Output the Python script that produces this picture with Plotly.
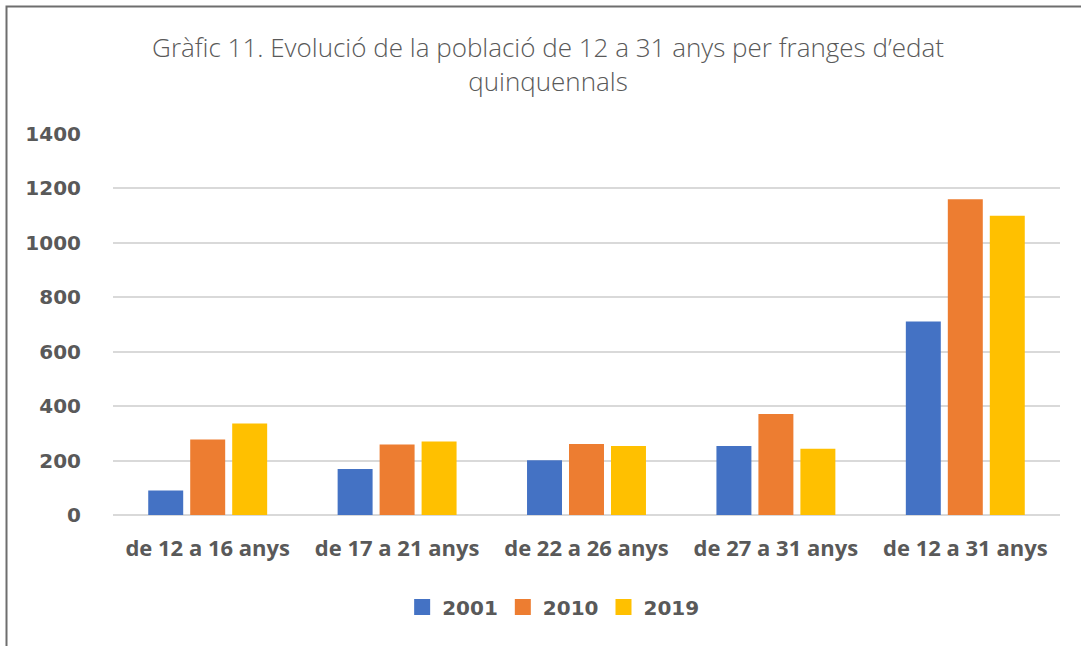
import plotly.graph_objects as go

categories = ["de 12 a 16 anys", "de 17 a 21 anys", "de 22 a 26 anys", "de 27 a 31 anys", "de 12 a 31 anys"]
series_names = ["2001", "2010", "2019"]
values_2001 = [90, 169, 201, 254, 711]
values_2010 = [277, 259, 261, 371, 1160]
values_2019 = [336, 270, 254, 243, 1100]
y_ticks = [0, 200, 400, 600, 800, 1000, 1200, 1400]
colors = ["#4472C4", "#ED7D31", "#FFC000"]

W, H = 1081, 646
ML, MR, MT, MB = 113, 21, 134, 131
TXT = "#595959"
BOLD_FONT = "DejaVu Sans, sans-serif"

fig = go.Figure()
for name, vals, col in zip(series_names, [values_2001, values_2010, values_2019], colors):
    fig.add_trace(go.Bar(x=categories, y=vals, name=name, showlegend=False,
                         marker=dict(color=col, line=dict(width=0))))
# legend entries with larger square swatches
for name, col in zip(series_names, colors):
    fig.add_trace(go.Scatter(x=[None], y=[None], name=name, mode="markers",
                             marker=dict(symbol="square", size=17, color=col)))

pw = W - ML - MR
ph = H - MT - MB
def px_x(x):
    return (x - ML) / pw
def px_y(y):
    return (H - MB - y) / ph

fig.update_layout(
    width=W, height=H,
    margin=dict(l=ML, r=MR, t=MT, b=MB, autoexpand=False),
    paper_bgcolor="white", plot_bgcolor="white",
    barmode="group", bargap=0.335, bargroupgap=0.167,
    font=dict(family="Open Sans, sans-serif", color=TXT),
    title=dict(
        text="Gràfic 11. Evolució de la població de 12 a 31 anys per franges d’edat<br>quinquennals",
        x=548 / W, xanchor="center", y=1 - 57 / H, yanchor="middle",
        font=dict(size=26, color=TXT, family="Open Sans, sans-serif", weight=300),
    ),
    xaxis=dict(
        showgrid=False, showline=False, ticks="",
        tickfont=dict(size=22, color=TXT, family="Open Sans, sans-serif", weight="bold"),
        ticklabelstandoff=18,
    ),
    yaxis=dict(
        range=[0, 1400], tickvals=y_ticks, ticktext=[str(v) for v in y_ticks],
        showgrid=True, gridcolor="#D9D9D9", gridwidth=1.5,
        zeroline=True, zerolinecolor="#D9D9D9", zerolinewidth=1.5,
        showline=False, ticks="",
        tickfont=dict(size=20, color=TXT, family=BOLD_FONT, weight="bold"),
        ticklabelstandoff=31,
    ),
    legend=dict(
        orientation="h", x=503 / W, xanchor="center",
        y=1 - 607 / H, yanchor="middle", yref="container",
        font=dict(size=20, color=TXT, family=BOLD_FONT, weight="bold"),
        itemwidth=30, traceorder="normal",
    ),
    shapes=[dict(
        type="rect", xref="paper", yref="paper",
        x0=px_x(6.5), x1=px_x(1095), y0=px_y(665), y1=px_y(6.5),
        line=dict(color="#6E6E6E", width=2), fillcolor="rgba(0,0,0,0)", layer="below",
    )],
)

fig.write_html("out.html", config={"displayModeBar": False},
               post_script="document.body.style.margin='0';document.body.style.overflow='hidden';")
